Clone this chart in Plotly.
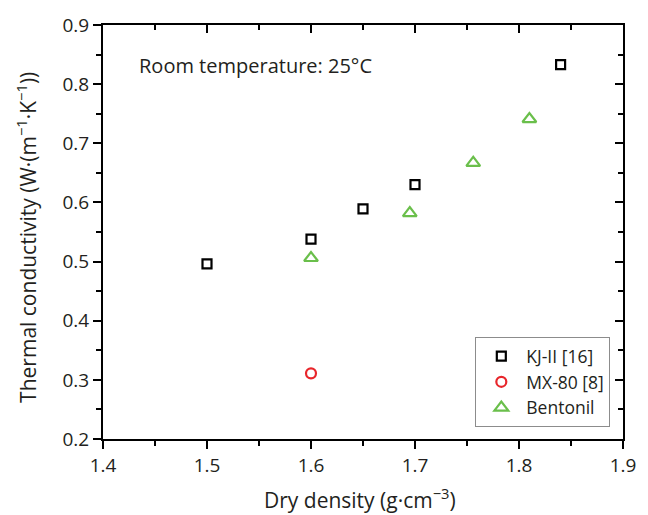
import plotly.graph_objects as go

kj_x = [1.50, 1.60, 1.65, 1.70, 1.84]
kj_y = [0.496, 0.538, 0.589, 0.630, 0.833]
mx_x = [1.60]
mx_y = [0.311]
bt_x = [1.60, 1.695, 1.756, 1.810]
bt_y = [0.506, 0.582, 0.667, 0.741]

FONT = "Open Sans"
TXT = "#231f20"
fig = go.Figure()
fig.add_trace(go.Scatter(x=kj_x, y=kj_y, mode="markers", name="KJ-II [16]",
                         marker=dict(symbol="square-open", size=9, color="black", line=dict(width=2.2))))
fig.add_trace(go.Scatter(x=mx_x, y=mx_y, mode="markers", name="MX-80 [8]",
                         marker=dict(symbol="circle-open", size=10, color="#e8262b", line=dict(width=2.2))))
fig.add_trace(go.Scatter(x=bt_x, y=bt_y, mode="markers", name="Bentonil",
                         marker=dict(symbol="triangle-up-open", size=12, color="#6abf4b", line=dict(width=2.2))))
fig.add_trace(go.Scatter(x=[None], y=[None], xaxis="x2", yaxis="y2", showlegend=False, hoverinfo="skip"))

common = dict(showline=True, linecolor="black", linewidth=2, showgrid=False, zeroline=False,
              tickcolor="black", tickwidth=1.5, ticklen=8,
              tickfont=dict(family=FONT, size=19, color=TXT))
minor_out = dict(dtick=0.05, ticks="outside", ticklen=5, tickcolor="black", tickwidth=1.5)
minor_in = dict(dtick=0.05, ticks="inside", ticklen=5, tickcolor="black", tickwidth=1.5)

fig.update_layout(
    width=648, height=515,
    margin=dict(l=103, r=18, t=15, b=76),
    paper_bgcolor="white", plot_bgcolor="white",
    font=dict(family=FONT, color=TXT),
    xaxis=dict(range=[1.4, 1.9], dtick=0.1, tickformat=".1f", ticks="outside", minor=minor_out, **common),
    yaxis=dict(range=[0.2, 0.9], dtick=0.1, tickformat=".1f", ticks="outside", minor=minor_out, **common),
    xaxis2=dict(overlaying="x", matches="x", side="top", anchor="y", ticks="inside", showticklabels=False,
                range=[1.4, 1.9], dtick=0.1, minor=minor_in, **common),
    yaxis2=dict(overlaying="y", matches="y", side="right", anchor="x", ticks="inside", showticklabels=False,
                range=[0.2, 0.9], dtick=0.1, minor=minor_in, **common),
    legend=dict(x=0.716, y=0.246, xanchor="left", yanchor="top",
                bordercolor="#8c8c8c", borderwidth=1, bgcolor="white",
                font=dict(family=FONT, size=17.5, color=TXT),
                tracegroupgap=0, itemwidth=40),
    annotations=[
        dict(text="Room temperature: 25°C", xref="paper", yref="paper",
             x=0.066, y=0.901, xanchor="left", yanchor="middle", showarrow=False,
             font=dict(family=FONT, size=20, color=TXT)),
        dict(text="Dry density (g·cm<sup>−3</sup>)", xref="paper", yref="paper",
             x=0.495, y=-0.144, xanchor="center", yanchor="middle", showarrow=False,
             font=dict(family=FONT, size=21, color=TXT)),
        dict(text="Thermal conductivity (W·(m<sup>−1</sup>·K<sup>−1</sup>))", xref="paper", yref="paper",
             x=-0.146, y=0.486, xanchor="center", yanchor="middle", showarrow=False, textangle=-90,
             font=dict(family=FONT, size=21, color=TXT)),
    ],
    showlegend=True,
)

fig.write_html("out.html")
